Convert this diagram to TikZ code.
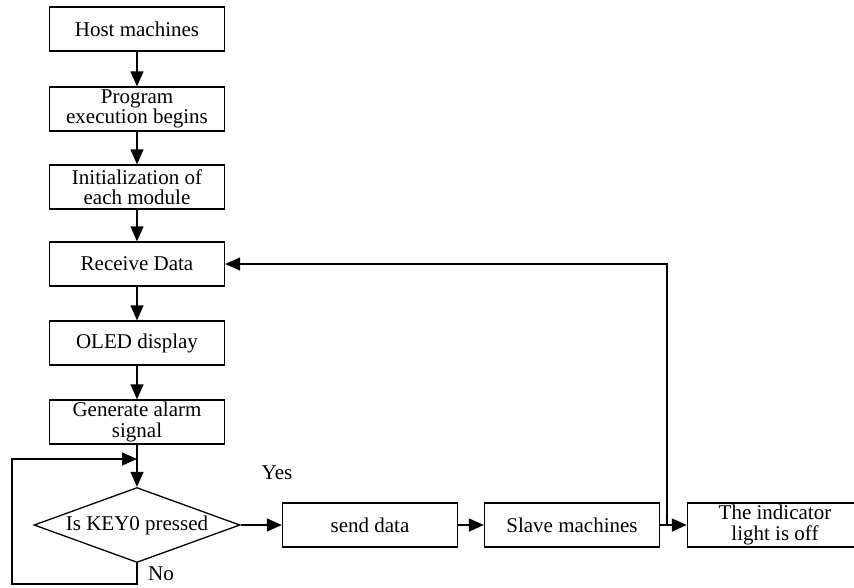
\documentclass[tikz,border=0pt]{standalone}
\usepackage{fontspec}
\setmainfont{Liberation Serif}
\usetikzlibrary{arrows.meta,shapes.geometric}

\begin{document}
\begin{tikzpicture}[x=1pt,y=-1pt,
  every node/.style={font=\fontsize{21}{20.5}\selectfont},
  proc/.style={draw, line width=1.3pt, minimum width=175pt, minimum height=44pt,
    inner sep=0pt, align=center},
  decide/.style={draw, line width=1.3pt, diamond, aspect=2.75, minimum width=206pt,
    minimum height=75pt, inner sep=0pt, align=center},
  flow/.style={line width=1.3pt, -{Triangle[length=15pt,width=13pt]}}]
  \useasboundingbox (0,0) rectangle (854,587);

  % main column
  \node[proc] (host) at (137,29)  {Host machines};
  \node[proc] (prog) at (137,109) {Program\\execution begins};
  \node[proc] (init) at (137,187) {Initialization of\\each module};
  \node[proc] (recv) at (137,264) {Receive Data};
  \node[proc] (oled) at (137,343) {OLED display};
  \node[proc] (gen)  at (137,422) {Generate alarm\\signal};
  \node[decide] (key) at (137,525) {Is KEY0 pressed};

  % bottom row
  \node[proc] (send)  at (370,525) {send data};
  \node[proc] (slave) at (572,525) {Slave machines};
  \node[proc] (ind)   at (775,525) {The indicator\\light is off};

  % branch labels
  \node (yes) at (277,473) {Yes};
  \node (no)  at (161,574) {No};

  % straight flow
  \draw[flow] (host) -- (prog);
  \draw[flow] (prog) -- (init);
  \draw[flow] (init) -- (recv);
  \draw[flow] (recv) -- (oled);
  \draw[flow] (oled) -- (gen);
  \draw[flow] (gen)  -- (key);
  \draw[flow] (key.east) -- (send.west);
  \draw[flow] (send) -- (slave);
  \draw[flow] (slave) -- (ind);

  % "No" loop back above the decision
  \coordinate (lb) at (12,584);
  \coordinate (lt) at (12,459);
  \coordinate (lj) at (137,459);
  \draw[flow] (key.south) |- (lb) -- (lt) -- (lj);

  % return path to Receive Data
  \coordinate (fb) at (667,525);
  \draw[flow] (fb) |- (recv.east);
\end{tikzpicture}
\end{document}
